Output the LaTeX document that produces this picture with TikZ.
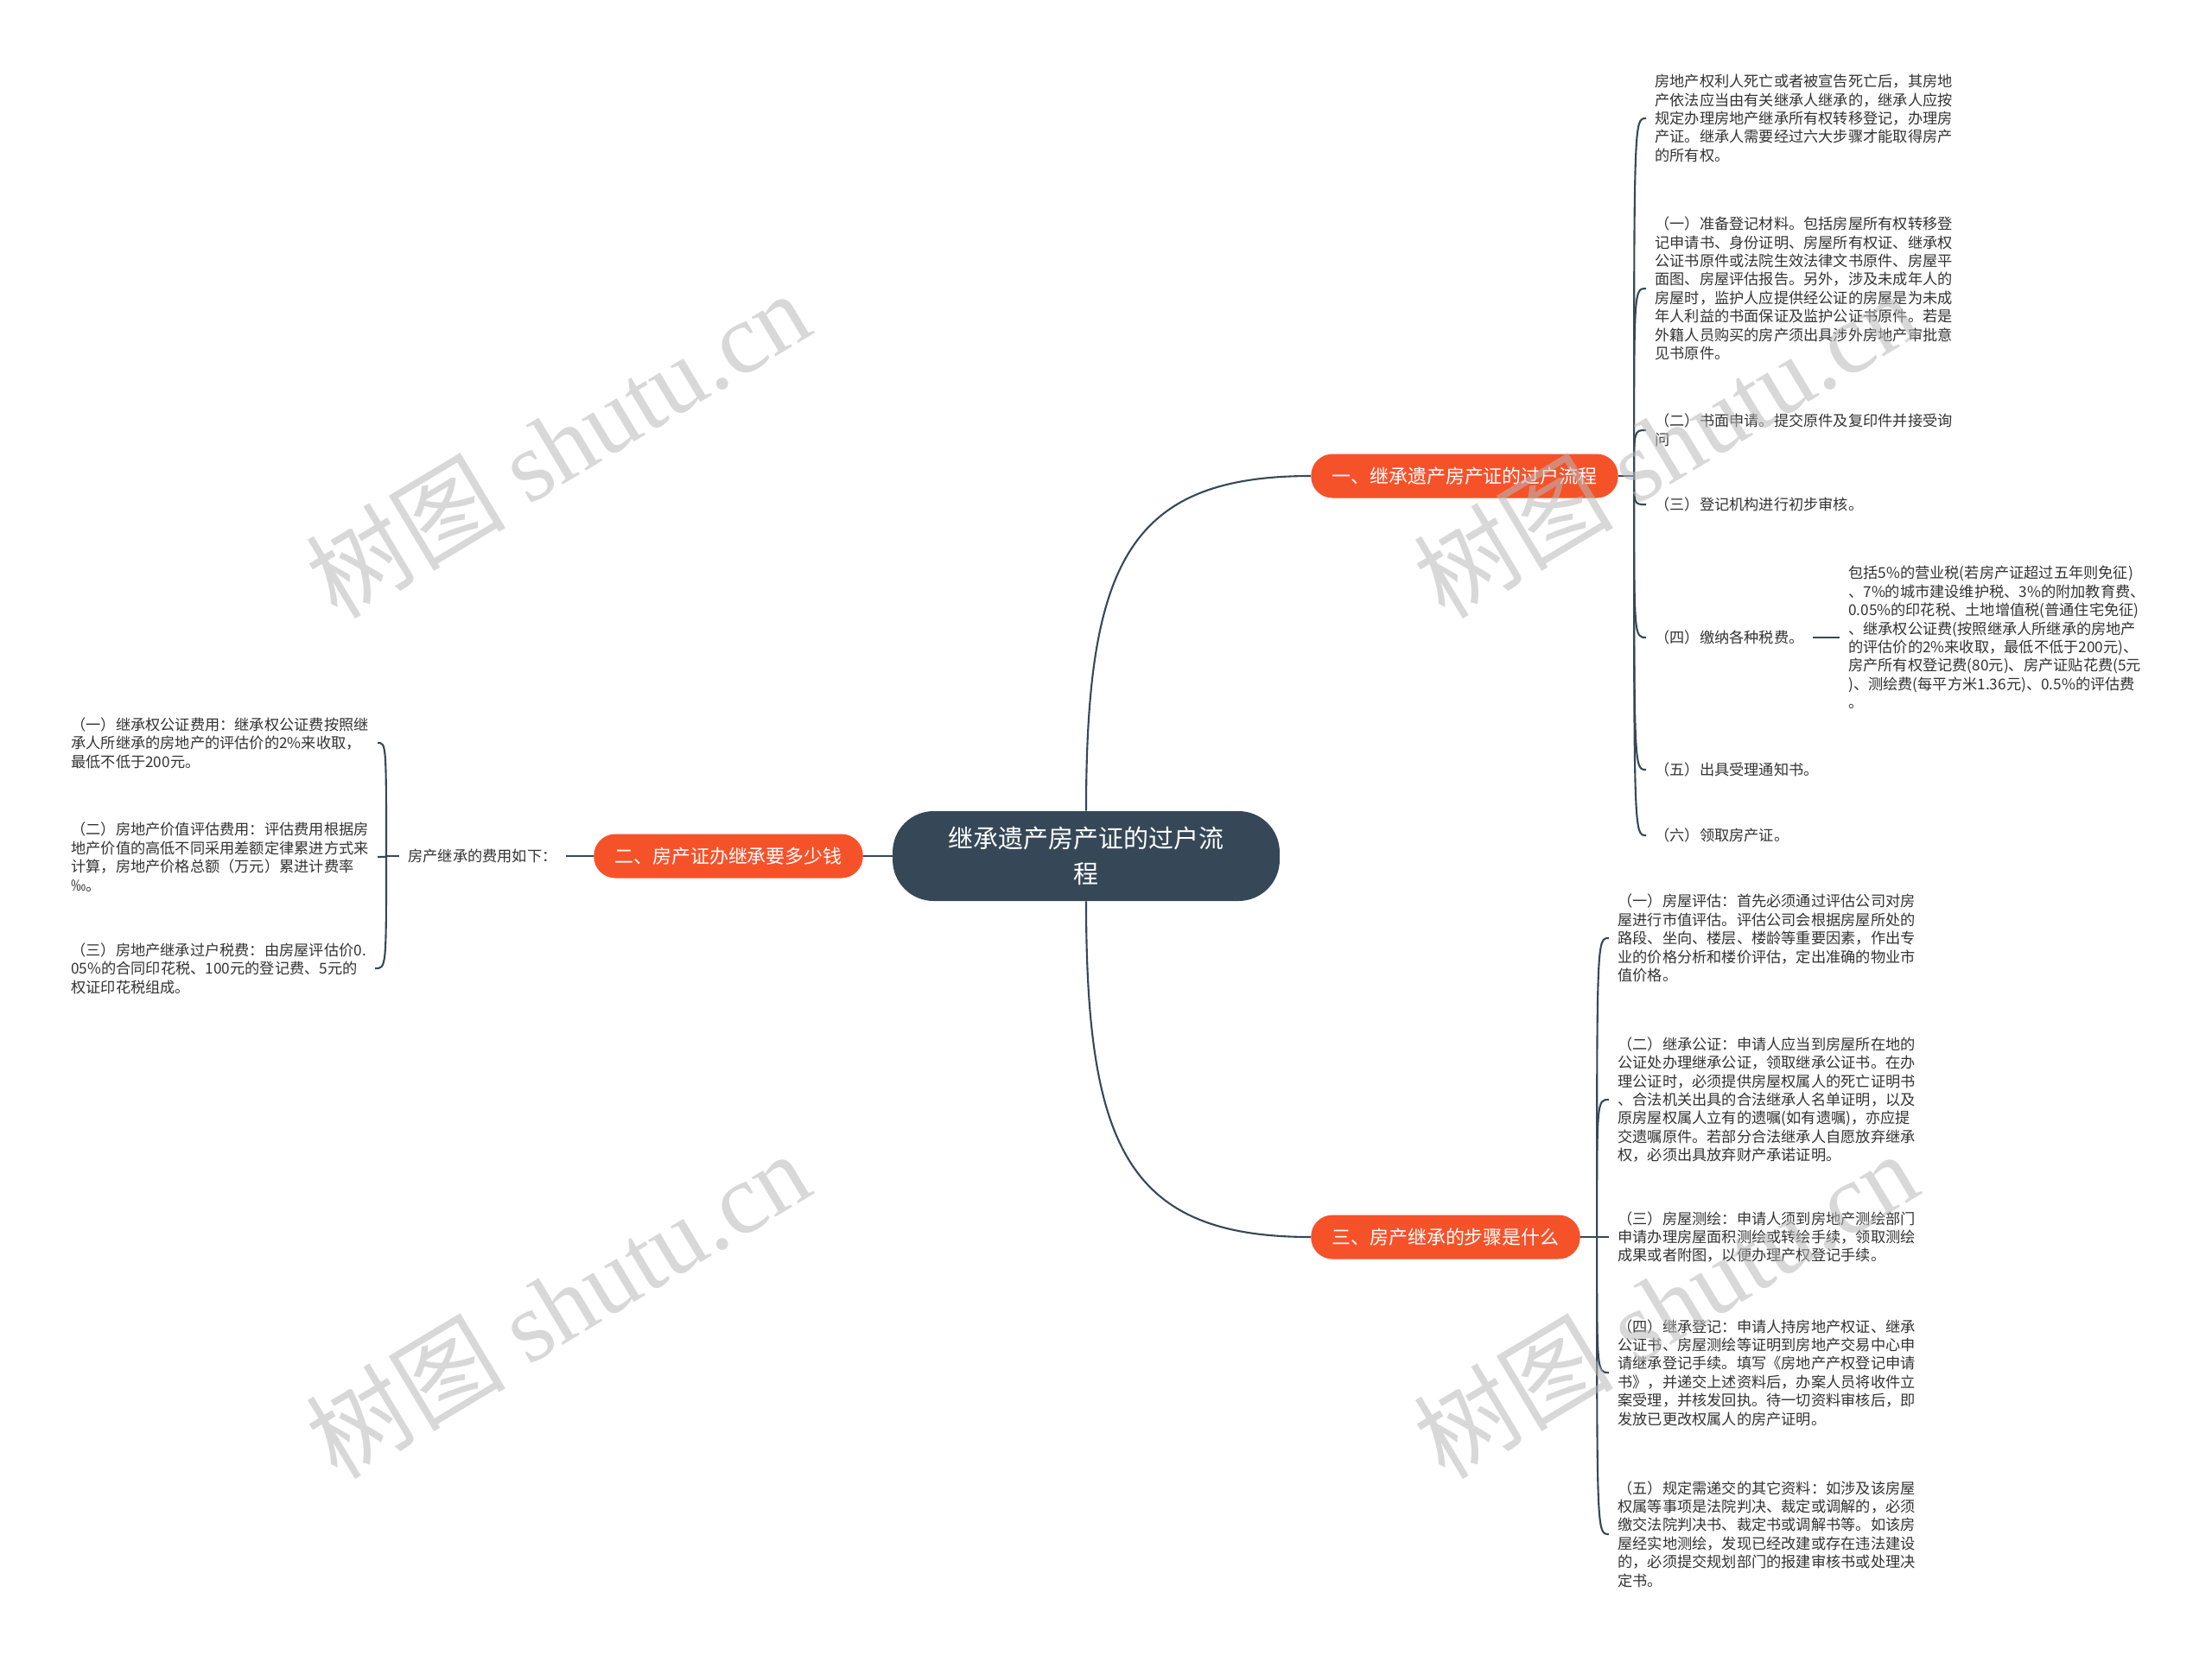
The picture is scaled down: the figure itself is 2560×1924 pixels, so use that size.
\documentclass[tikz,border=0pt]{standalone}
\usepackage{fontspec}
\setmainfont{Noto Sans CJK SC}
\newfontfamily\markfont{Liberation Serif}
\usetikzlibrary{positioning}
\definecolor{rootSlate}{RGB}{54,72,88}
\definecolor{topicOrange}{RGB}{246,82,42}
\definecolor{leafGray}{RGB}{51,51,51}
\definecolor{markGray}{RGB}{185,185,185}
\newcommand\leaffont{\fontsize{9.8pt}{12.2pt}\selectfont}
\newcommand\topicfont{\fontsize{12.5pt}{15pt}\selectfont}
\newcommand\rootfont{\fontsize{16.5pt}{23.3pt}\selectfont}
\newcommand\bigmarkfont{\fontsize{66pt}{66pt}\selectfont}
\tikzset{
	rootnode/.style={rectangle, rounded corners=0.95cm, fill=rootSlate, text=white,
		minimum width=8.96cm, minimum height=2.08cm, align=center, font=\rootfont},
	topicnode/.style={rectangle, rounded corners=0.5cm, fill=topicOrange, text=white,
		minimum height=1.02cm, inner xsep=0.48cm, inner ysep=0pt, font=\topicfont},
	branchline/.style={draw=rootSlate, line width=1.2pt},
	watermark/.style={font=\bigmarkfont, text=markGray, opacity=0.55, rotate=31}
}

\begin{document}
\begin{tikzpicture}[x=0.02cm, y=-0.02cm,
			leafnote/.style={align=left, inner xsep=0.2cm, inner ysep=0pt,
				text=leafGray, font=\leaffont}]
	\fill[white] (0,0) rectangle (2560,1924);
	\useasboundingbox (0,0) rectangle (2560,1924);
	% root and main topics
	\node[rootnode] (root) at (1257,991) {继承遗产房产证的过户流\\程};
	\node[topicnode] (br1) at (1695,551) {一、继承遗产房产证的过户流程};
	\node[topicnode] (br2) at (843,991) {二、房产证办继承要多少钱};
	\node[topicnode] (br3) at (1673,1432) {三、房产继承的步骤是什么};
	\draw[branchline] (root.north) .. controls +(0,-286) and +(-211,0) .. (br1.west);
	\draw[branchline] (root.south) .. controls +(0,286) and +(-211,0) .. (br3.west);
	\draw[branchline] (root.west) -- (br2.east);

	% topic one
	\coordinate (jr1) at ([xshift=0.36cm]br1.east);
	\draw[branchline] (br1.east) -- (jr1);
	\node[leafnote, anchor=west] (intro) at (1905,137) {房地产权利人死亡或者被宣告死亡后，其房地\\
		产依法应当由有关继承人继承的，继承人应按\\
		规定办理房地产继承所有权转移登记，办理房\\
		产证。继承人需要经过六大步骤才能取得房产\\
		的所有权。};
	\node[leafnote, anchor=west] (prep) at (1905,334) {（一）准备登记材料。包括房屋所有权转移登\\
		记申请书、身份证明、房屋所有权证、继承权\\
		公证书原件或法院生效法律文书原件、房屋平\\
		面图、房屋评估报告。另外，涉及未成年人的\\
		房屋时，监护人应提供经公证的房屋是为未成\\
		年人利益的书面保证及监护公证书原件。若是\\
		外籍人员购买的房产须出具涉外房地产审批意\\
		见书原件。};
	\node[leafnote, anchor=west] (apply) at (1905,498) {（二）书面申请。提交原件及复印件并接受询\\
		问};
	\node[leafnote, anchor=west] (review) at (1905,584) {（三）登记机构进行初步审核。};
	\node[leafnote, anchor=west] (tax) at (1905,738) {（四）缴纳各种税费。};
	\node[leafnote, anchor=west] (notice) at (1905,891) {（五）出具受理通知书。};
	\node[leafnote, anchor=west] (collect) at (1905,967) {（六）领取房产证。};
	\foreach \leaf in {intro,prep,apply,review,tax,notice,collect}
		\draw[branchline] (jr1) .. controls (jr1 |- \leaf.west) .. (\leaf.west);
	\node[leafnote, right=0.62cm of tax] (taxfee) {包括5\%的营业税(若房产证超过五年则免征)\\
		、7\%的城市建设维护税、3\%的附加教育费、\\
		0.05\%的印花税、土地增值税(普通住宅免征)\\
		、继承权公证费(按照继承人所继承的房地产\\
		的评估价的2\%来收取，最低不低于200元)、\\
		房产所有权登记费(80元)、房产证贴花费(5元\\
		)、测绘费(每平方米1.36元)、0.5\%的评估费\\
		。};
	\draw[branchline] (tax) -- (taxfee);

	% topic two
	\node[leafnote, left=0.64cm of br2] (feelabel) {房产继承的费用如下：};
	\draw[branchline] (br2) -- (feelabel);
	\coordinate (jl2) at ([xshift=-0.3cm]feelabel.west);
	\draw[branchline] (feelabel.west) -- (jl2);
	\node[leafnote, anchor=west] (feeA) at (72,860) {（一）继承权公证费用：继承权公证费按照继\\
		承人所继承的房地产的评估价的2\%来收取，\\
		最低不低于200元。};
	\node[leafnote, anchor=west] (feeB) at (72,992) {（二）房地产价值评估费用：评估费用根据房\\
		地产价值的高低不同采用差额定律累进方式来\\
		计算，房地产价格总额（万元）累进计费率\\
		‰。};
	\node[leafnote, anchor=west] (feeC) at (72,1121) {（三）房地产继承过户税费：由房屋评估价0.\\
		05\%的合同印花税、100元的登记费、5元的\\
		权证印花税组成。};
	\foreach \leaf in {feeA,feeB,feeC}
		\draw[branchline] (jl2) .. controls (jl2 |- \leaf.east) .. (\leaf.east);

	% topic three
	\coordinate (jr3) at ([xshift=0.38cm]br3.east);
	\draw[branchline] (br3.east) -- (jr3);
	\node[leafnote, anchor=west] (assess) at (1862,1086) {（一）房屋评估：首先必须通过评估公司对房\\
		屋进行市值评估。评估公司会根据房屋所处的\\
		路段、坐向、楼层、楼龄等重要因素，作出专\\
		业的价格分析和楼价评估，定出准确的物业市\\
		值价格。};
	\node[leafnote, anchor=west] (notary) at (1862,1273) {（二）继承公证：申请人应当到房屋所在地的\\
		公证处办理继承公证，领取继承公证书。在办\\
		理公证时，必须提供房屋权属人的死亡证明书\\
		、合法机关出具的合法继承人名单证明，以及\\
		原房屋权属人立有的遗嘱(如有遗嘱)，亦应提\\
		交遗嘱原件。若部分合法继承人自愿放弃继承\\
		权，必须出具放弃财产承诺证明。};
	\node[leafnote, anchor=west] (survey) at (1862,1432) {（三）房屋测绘：申请人须到房地产测绘部门\\
		申请办理房屋面积测绘或转绘手续，领取测绘\\
		成果或者附图，以便办理产权登记手续。};
	\node[leafnote, anchor=west] (register) at (1862,1589) {（四）继承登记：申请人持房地产权证、继承\\
		公证书、房屋测绘等证明到房地产交易中心申\\
		请继承登记手续。填写《房地产产权登记申请\\
		书》，并递交上述资料后，办案人员将收件立\\
		案受理，并核发回执。待一切资料审核后，即\\
		发放已更改权属人的房产证明。};
	\node[leafnote, anchor=west] (extra) at (1862,1776) {（五）规定需递交的其它资料：如涉及该房屋\\
		权属等事项是法院判决、裁定或调解的，必须\\
		缴交法院判决书、裁定书或调解书等。如该房\\
		屋经实地测绘，发现已经改建或存在违法建设\\
		的，必须提交规划部门的报建审核书或处理决\\
		定书。};
	\foreach \leaf in {assess,notary,survey,register,extra}
		\draw[branchline] (jr3) .. controls (jr3 |- \leaf.west) .. (\leaf.west);

	% watermarks
	\node[watermark] (wm1) at (645,514) {树图 {\markfont shutu.cn}};
	\node[watermark] (wm2) at (1927,514) {树图 {\markfont shutu.cn}};
	\node[watermark] (wm3) at (645,1510) {树图 {\markfont shutu.cn}};
	\node[watermark] (wm4) at (1927,1510) {树图 {\markfont shutu.cn}};
\end{tikzpicture}
\end{document}
